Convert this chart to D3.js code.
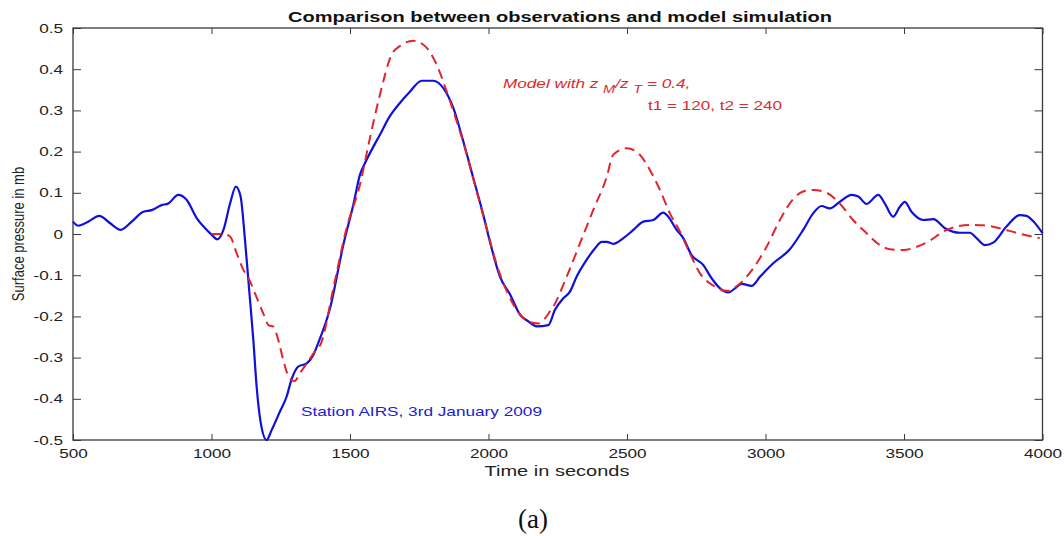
<!DOCTYPE html>
<html>
<head>
<meta charset="utf-8">
<script src="https://cdn.jsdelivr.net/npm/d3@7"></script>
<style>
  html, body { margin: 0; padding: 0; background: #ffffff; }
  svg { display: block; font-family: "Liberation Sans", Arial, Helvetica, sans-serif; }
</style>
</head>
<body>
<svg id="chart" width="1064" height="536"></svg>
<script>
// Observed surface pressure anomaly (station AIRS), time in seconds
const obsTime = [500, 519, 555, 595, 634, 672, 712, 754, 784, 820, 844, 880, 910, 947, 977, 1001, 1021, 1043,
  1067, 1088, 1105, 1121, 1136, 1151, 1163, 1178, 1199, 1217, 1247, 1271, 1289, 1313, 1344, 1367, 1385,
  1428, 1476, 1512, 1536, 1560, 1608, 1644, 1680, 1717, 1759, 1801, 1837, 1873, 1909, 1945, 1981, 2011,
  2041, 2078, 2114, 2144, 2174, 2216, 2240, 2270, 2294, 2318, 2354, 2384, 2409, 2427, 2450, 2487, 2523,
  2559, 2595, 2631, 2649, 2679, 2703, 2733, 2775, 2806, 2836, 2866, 2890, 2914, 2950, 2980, 3028, 3088,
  3136, 3172, 3202, 3232, 3268, 3311, 3335, 3365, 3407, 3431, 3461, 3485, 3503, 3527, 3570, 3606, 3648,
  3702, 3738, 3762, 3792, 3822, 3870, 3918, 3942, 3972, 4000];
const obsValue = [0.030, 0.020, 0.030, 0.044, 0.026, 0.010, 0.030, 0.054, 0.058, 0.070, 0.074, 0.095, 0.083, 0.038, 0.014, -0.002, -0.013, 0.010,
  0.074, 0.115, 0.091, -0.015, -0.136, -0.257, -0.371, -0.459, -0.500, -0.476, -0.431, -0.395, -0.353, -0.322, -0.314, -0.294, -0.265,
  -0.180, -0.026, 0.071, 0.144, 0.180, 0.241, 0.286, 0.318, 0.346, 0.372, 0.372, 0.354, 0.306, 0.225, 0.136, 0.047, -0.034,
  -0.103, -0.147, -0.196, -0.212, -0.224, -0.221, -0.184, -0.156, -0.140, -0.104, -0.063, -0.035, -0.019, -0.019, -0.024, -0.010, 0.010,
  0.030, 0.034, 0.052, 0.042, 0.010, -0.010, -0.051, -0.075, -0.108, -0.132, -0.142, -0.132, -0.121, -0.126, -0.104, -0.071, -0.037,
  0.010, 0.050, 0.068, 0.062, 0.078, 0.095, 0.091, 0.073, 0.095, 0.074, 0.042, 0.066, 0.078, 0.054, 0.034, 0.036, 0.014,
  0.003, 0.003, -0.010, -0.027, -0.021, 0.018, 0.046, 0.044, 0.027, 0.002];

// Model simulation (zM/zT = 0.4, t1 = 120, t2 = 240)
const modelTime = [1000, 1043, 1067, 1091, 1115, 1133, 1157, 1187, 1207, 1223, 1241, 1259, 1277, 1290, 1300, 1319,
  1344, 1374, 1395, 1440, 1488, 1536, 1572, 1608, 1650, 1680, 1729, 1771, 1813, 1849, 1885, 1909, 1945, 1993,
  2030, 2066, 2110, 2150, 2180, 2222, 2234, 2282, 2330, 2378, 2427, 2450, 2499, 2541, 2583, 2619, 2655, 2691,
  2727, 2763, 2811, 2860, 2908, 2956, 3004, 3052, 3100, 3136, 3172, 3221, 3268, 3316, 3365, 3413, 3449, 3497,
  3546, 3594, 3642, 3690, 3738, 3786, 3846, 3906, 3954, 3990];
const modelValue = [0.000, 0.000, -0.006, -0.047, -0.087, -0.106, -0.144, -0.193, -0.222, -0.225, -0.257, -0.306, -0.344, -0.355, -0.357, -0.338,
  -0.314, -0.284, -0.266, -0.131, 0.015, 0.120, 0.233, 0.338, 0.435, 0.456, 0.469, 0.456, 0.411, 0.346, 0.274, 0.222, 0.134, 0.015,
  -0.075, -0.139, -0.192, -0.214, -0.217, -0.188, -0.176, -0.104, -0.023, 0.058, 0.139, 0.192, 0.208, 0.196, 0.155, 0.107, 0.050, 0.006,
  -0.047, -0.095, -0.125, -0.138, -0.120, -0.083, -0.031, 0.034, 0.085, 0.103, 0.107, 0.100, 0.074, 0.034, 0.002, -0.027, -0.037, -0.039,
  -0.031, -0.016, 0.006, 0.018, 0.022, 0.021, 0.014, 0.003, -0.005, -0.010];

// Axis ticks and labels
const xTicks = [500, 1000, 1500, 2000, 2500, 3000, 3500, 4000];
const xTickLabels = ["500", "1000", "1500", "2000", "2500", "3000", "3500", "4000"];
const yTicks = [-0.5, -0.4, -0.3, -0.2, -0.1, 0, 0.1, 0.2, 0.3, 0.4, 0.5];
const yTickLabels = ["-0.5", "-0.4", "-0.3", "-0.2", "-0.1", "0", "0.1", "0.2", "0.3", "0.4", "0.5"];

const titleText = "Comparison between observations and model simulation";
const xLabelText = "Time in seconds";
const yLabelText = "Surface pressure in mb";
const stationText = "Station AIRS, 3rd January 2009";

const plot = { left: 73, right: 1042.5, top: 28, bottom: 440 };
const stretch = 1.32; // glyphs are drawn wider than tall

const svg = d3.select("#chart");
const x = d3.scaleLinear().domain([500, 4000]).range([plot.left, plot.right]);
const y = d3.scaleLinear().domain([-0.5, 0.5]).range([plot.bottom, plot.top]);

const axisColor = "#3a3a3a";

// Inward-pointing ticks on all four sides
const gBottom = svg.append("g").attr("transform", `translate(0,${plot.bottom})`)
  .call(d3.axisBottom(x).tickValues(xTicks).tickFormat((d, i) => xTickLabels[i])
    .tickSizeInner(-6).tickSizeOuter(0).tickPadding(9));
const gTop = svg.append("g").attr("transform", `translate(0,${plot.top})`)
  .call(d3.axisTop(x).tickValues(xTicks).tickFormat("").tickSizeInner(-6).tickSizeOuter(0));
const gLeft = svg.append("g").attr("transform", `translate(${plot.left},0)`)
  .call(d3.axisLeft(y).tickValues(yTicks).tickFormat((d, i) => yTickLabels[i])
    .tickSizeInner(-8).tickSizeOuter(0).tickPadding(0));
const gRight = svg.append("g").attr("transform", `translate(${plot.right},0)`)
  .call(d3.axisRight(y).tickValues(yTicks).tickFormat("").tickSizeInner(-8).tickSizeOuter(0));

[gBottom, gTop, gLeft, gRight].forEach(g => {
  g.select(".domain").remove();
  g.selectAll(".tick line").attr("stroke", axisColor).attr("stroke-width", 1);
});
gBottom.selectAll(".tick text")
  .attr("font-size", 13).attr("fill", "#222")
  .attr("transform", `scale(${stretch},1)`)
  .style("font-family", "'Liberation Sans', Arial, sans-serif");
gLeft.selectAll(".tick text")
  .attr("font-size", 13).attr("fill", "#222").attr("x", 0)
  .attr("transform", `translate(-10,0) scale(${stretch},1)`)
  .style("font-family", "'Liberation Sans', Arial, sans-serif");

// Frame
svg.append("rect")
  .attr("x", plot.left).attr("y", plot.top)
  .attr("width", plot.right - plot.left).attr("height", plot.bottom - plot.top)
  .attr("fill", "none").attr("stroke", axisColor).attr("stroke-width", 1.3);

const line = d3.line().curve(d3.curveMonotoneX)
  .x(d => x(d[0])).y(d => y(d[1]));

const obsData = obsTime.map((t, i) => [t, obsValue[i]]);
const modelData = modelTime.map((t, i) => [t, modelValue[i]]);

svg.append("path").datum(obsData)
  .attr("d", line).attr("fill", "none")
  .attr("stroke", "#1010dc").attr("stroke-width", 2.2)
  .attr("stroke-linejoin", "round");

svg.append("path").datum(modelData)
  .attr("d", line).attr("fill", "none")
  .attr("stroke", "#e3242b").attr("stroke-width", 2)
  .attr("stroke-dasharray", "10,6");

// Title and axis labels
svg.append("text").attr("x", 560).attr("y", 22)
  .attr("text-anchor", "middle").attr("font-size", 14).attr("font-weight", "bold")
  .attr("fill", "#111")
  .attr("textLength", 544).attr("lengthAdjust", "spacingAndGlyphs")
  .text(titleText);

svg.append("text").attr("x", 557).attr("y", 476)
  .attr("text-anchor", "middle").attr("font-size", 14).attr("fill", "#222")
  .attr("textLength", 145).attr("lengthAdjust", "spacingAndGlyphs")
  .text(xLabelText);

svg.append("text")
  .attr("transform", `translate(18,234) scale(${stretch},1) rotate(-90)`)
  .attr("text-anchor", "middle").attr("dy", "0.35em")
  .attr("font-size", 13).attr("fill", "#222")
  .text(yLabelText);

// Annotations
svg.append("text").attr("x", 301).attr("y", 416)
  .attr("font-size", 13).attr("fill", "#2020d0")
  .attr("textLength", 241).attr("lengthAdjust", "spacingAndGlyphs")
  .text(stationText);

const modelLabel = svg.append("text")
  .attr("transform", `translate(503,88) scale(${stretch},1)`)
  .attr("font-size", 13).attr("fill", "#dd2a2a").attr("font-style", "italic");
modelLabel.append("tspan").text("Model with z ");
modelLabel.append("tspan").attr("dy", 5).attr("font-size", 11).text("M");
modelLabel.append("tspan").attr("dy", -5).text("/z ");
modelLabel.append("tspan").attr("dy", 5).attr("font-size", 11).text("T");
modelLabel.append("tspan").attr("dy", -5).text(" = 0.4,");

svg.append("text").attr("x", 648).attr("y", 110)
  .attr("font-size", 13).attr("fill", "#dd2a2a")
  .attr("textLength", 134).attr("lengthAdjust", "spacingAndGlyphs")
  .text("t1 = 120, t2 = 240");

// Panel label
svg.append("text").attr("x", 533).attr("y", 528)
  .attr("text-anchor", "middle").attr("font-size", 28)
  .style("font-family", "'Liberation Serif', 'DejaVu Serif', serif").attr("fill", "#111")
  .attr("textLength", 30).attr("lengthAdjust", "spacingAndGlyphs")
  .text("(a)");
</script>
</body>
</html>
